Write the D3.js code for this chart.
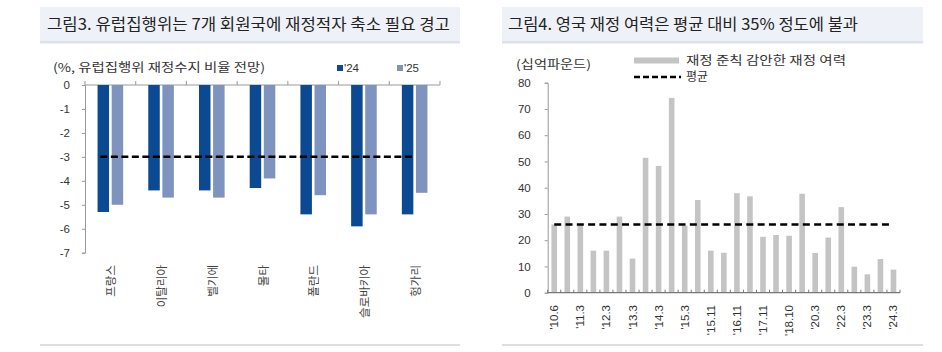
<!DOCTYPE html>
<html>
<head>
<meta charset="utf-8">
<script src="https://cdn.jsdelivr.net/npm/d3@7"></script>
<style>
  body { margin: 0; background: #fff; }
  svg { display: block; font-family: "Noto Sans CJK KR", "Noto Sans", sans-serif; }
  .tick text { fill: #333; }
</style>
</head>
<body>
<svg id="chart" width="942" height="352"></svg>
<script>
// left chart: EC deficit forecasts
const countries = ["프랑스", "이탈리아", "벨기에", "몰타", "폴란드", "슬로바키아", "헝가리"]
const deficit24 = [-5.3, -4.4, -4.4, -4.3, -5.4, -5.9, -5.4]
const deficit25 = [-5.0, -4.7, -4.7, -3.9, -4.6, -5.4, -4.5]
const deficitLimit = -3
const leftTicks = [0, -1, -2, -3, -4, -5, -6, -7]

// right chart: UK fiscal headroom
const events = ["'10.6", "'10.11", "'11.3", "'11.11", "'12.3", "'12.12", "'13.3", "'13.12", "'14.3", "'14.12",
  "'15.3", "'15.7", "'15.11", "'16.3", "'16.11", "'17.3", "'17.11", "'18.3", "'18.10", "'19.3",
  "'20.3", "'21.3", "'22.3", "'22.11", "'23.3", "'23.11", "'24.3"]
const headroom = [26, 29, 26, 16, 16, 29, 13, 51.4, 48.3, 74.2,
  25.5, 35.3, 16, 15.2, 37.9, 36.7, 21.3, 22, 21.7, 37.7,
  15.1, 21, 32.6, 9.9, 7, 12.8, 8.8]
const headroomAvg = 26
const rightTicks = [0, 10, 20, 30, 40, 50, 60, 70, 80]

const svg = d3.select("#chart")

function fitText(sel, width) {
  sel.attr("textLength", width).attr("lengthAdjust", "spacingAndGlyphs")
}

function drawPanel(x0, x1, title, titleX, titleW) {
  svg.append("rect").attr("x", x0).attr("y", 7).attr("width", x1 - x0).attr("height", 35).attr("fill", "#EEF2F8")
  svg.append("rect").attr("x", x0).attr("y", 41).attr("width", x1 - x0).attr("height", 2.5).attr("fill", "#DDE1E8")
  svg.append("text").attr("x", titleX).attr("y", 30).attr("font-size", 16).attr("fill", "#222")
    .text(title).call(fitText, titleW)
  svg.append("line").attr("x1", x0).attr("x2", x1).attr("y1", 345).attr("y2", 345)
    .attr("stroke", "#D5D5D5").attr("stroke-width", 1.5)
}

drawPanel(40, 460, "그림3. 유럽집행위는 7개 회원국에 재정적자 축소 필요 경고", 47, 403)
drawPanel(502, 923, "그림4. 영국 재정 여력은 평균 대비 35% 정도에 불과", 508, 350)

// ---------- left chart ----------
const xL = d3.scaleBand().domain(countries).range([85, 440])
const yL = d3.scaleLinear().domain([-7, 0]).range([252.7, 85])
const barW = 11.5

const gL = svg.append("g")

gL.append("g")
  .attr("transform", "translate(85,0)")
  .call(d3.axisLeft(yL).tickValues(leftTicks).tickFormat((d) => String(d)).tickSize(3).tickPadding(12))
  .call((g) => g.selectAll("text").attr("font-size", 11.5).attr("font-family", "Liberation Sans, Arial, sans-serif"))
  .call((g) => g.selectAll("line, path").attr("stroke", "#999"))

// x axis line with band-boundary ticks pointing up
gL.append("line").attr("x1", 85).attr("x2", 440).attr("y1", yL(0)).attr("y2", yL(0)).attr("stroke", "#999")
gL.selectAll(".xtick").data(d3.range(countries.length + 1)).join("line")
  .attr("x1", (i) => 85 + i * xL.step()).attr("x2", (i) => 85 + i * xL.step())
  .attr("y1", yL(0)).attr("y2", yL(0) - 4).attr("stroke", "#999")

gL.selectAll(".b24").data(countries).join("rect")
  .attr("x", (d) => xL(d) + xL.bandwidth() / 2 - barW - 1.3)
  .attr("y", yL(0))
  .attr("width", barW)
  .attr("height", (d, i) => yL(deficit24[i]) - yL(0))
  .attr("fill", "#0B4A92")

gL.selectAll(".b25").data(countries).join("rect")
  .attr("x", (d) => xL(d) + xL.bandwidth() / 2 + 1.3)
  .attr("y", yL(0))
  .attr("width", barW)
  .attr("height", (d, i) => yL(deficit25[i]) - yL(0))
  .attr("fill", "#7F93BF")

gL.append("line")
  .attr("x1", xL(countries[0]) + xL.bandwidth() / 2 - 10)
  .attr("x2", xL(countries[countries.length - 1]) + xL.bandwidth() / 2 - 2)
  .attr("y1", yL(deficitLimit)).attr("y2", yL(deficitLimit))
  .attr("stroke", "#000").attr("stroke-width", 2.5).attr("stroke-dasharray", "7,3.5")

gL.selectAll(".xlab").data(countries).join("text")
  .attr("transform", (d) => `translate(${xL(d) + xL.bandwidth() / 2 + 5},265) rotate(-90)`)
  .attr("text-anchor", "end")
  .attr("font-size", 11.5)
  .attr("fill", "#444")
  .text((d) => d)

gL.append("text").attr("x", 53).attr("y", 72).attr("font-size", 12).attr("fill", "#333")
  .text("(%, 유럽집행위 재정수지 비율 전망)").call(fitText, 212)

const legL = [["'24", "#0B4A92", 337], ["'25", "#7F93BF", 397]]
legL.forEach(([label, color, x]) => {
  gL.append("rect").attr("x", x).attr("y", 65).attr("width", 6).attr("height", 6).attr("fill", color)
  gL.append("text").attr("x", x + 7).attr("y", 72).attr("font-size", 11.5).attr("fill", "#333")
    .attr("font-family", "Liberation Sans, Arial, sans-serif").text(label)
})

// ---------- right chart ----------
const xR = d3.scaleBand().domain(events).range([547.7, 900])
const yR = d3.scaleLinear().domain([0, 80]).range([292.7, 82.7])
const gR = svg.append("g")

gR.append("g")
  .attr("transform", "translate(547.7,0)")
  .call(d3.axisLeft(yR).tickValues(rightTicks).tickSize(3).tickPadding(14))
  .call((g) => g.selectAll("text").attr("font-size", 11.5).attr("font-family", "Liberation Sans, Arial, sans-serif"))
  .call((g) => g.selectAll("line, path").attr("stroke", "#999"))

gR.selectAll(".bar").data(events).join("rect")
  .attr("x", (d) => xR(d) + xR.bandwidth() / 2 - 2.8)
  .attr("y", (d, i) => yR(headroom[i]))
  .attr("width", 5.6)
  .attr("height", (d, i) => yR(0) - yR(headroom[i]))
  .attr("fill", "#C4C4C4")

gR.append("line").attr("x1", 547.7).attr("x2", 900).attr("y1", yR(0)).attr("y2", yR(0)).attr("stroke", "#777").attr("stroke-width", 1.3)
gR.selectAll(".xtick").data(d3.range(events.length + 1)).join("line")
  .attr("x1", (i) => 547.7 + i * xR.step()).attr("x2", (i) => 547.7 + i * xR.step())
  .attr("y1", yR(0)).attr("y2", yR(0) - 3).attr("stroke", "#777")

gR.append("line")
  .attr("x1", xR(events[0]) + xR.bandwidth() / 2)
  .attr("x2", xR(events[events.length - 1]) + xR.bandwidth() / 2 - 4)
  .attr("y1", yR(headroomAvg)).attr("y2", yR(headroomAvg))
  .attr("stroke", "#000").attr("stroke-width", 2.5).attr("stroke-dasharray", "7,4.3")

gR.selectAll(".xlab").data(events.filter((d, i) => i % 2 === 0)).join("text")
  .attr("transform", (d) => `translate(${xR(d) + xR.bandwidth() / 2 + 4},305) rotate(-90)`)
  .attr("text-anchor", "end")
  .attr("font-size", 11.5)
  .attr("fill", "#333")
  .attr("font-family", "Liberation Sans, Arial, sans-serif")
  .text((d) => d)

gR.append("text").attr("x", 516).attr("y", 69).attr("font-size", 12).attr("fill", "#333")
  .text("(십억파운드)").call(fitText, 75)

gR.append("rect").attr("x", 634).attr("y", 57.5).attr("width", 45).attr("height", 6).attr("fill", "#C4C4C4")
gR.append("text").attr("x", 686).attr("y", 65).attr("font-size", 12).attr("fill", "#333")
  .text("재정 준칙 감안한 재정 여력").call(fitText, 160)
gR.append("line").attr("x1", 634).attr("x2", 681).attr("y1", 77).attr("y2", 77)
  .attr("stroke", "#000").attr("stroke-width", 2.3).attr("stroke-dasharray", "6,3")
gR.append("text").attr("x", 686).attr("y", 81).attr("font-size", 12).attr("fill", "#333")
  .text("평균").call(fitText, 22)
</script>
</body>
</html>
